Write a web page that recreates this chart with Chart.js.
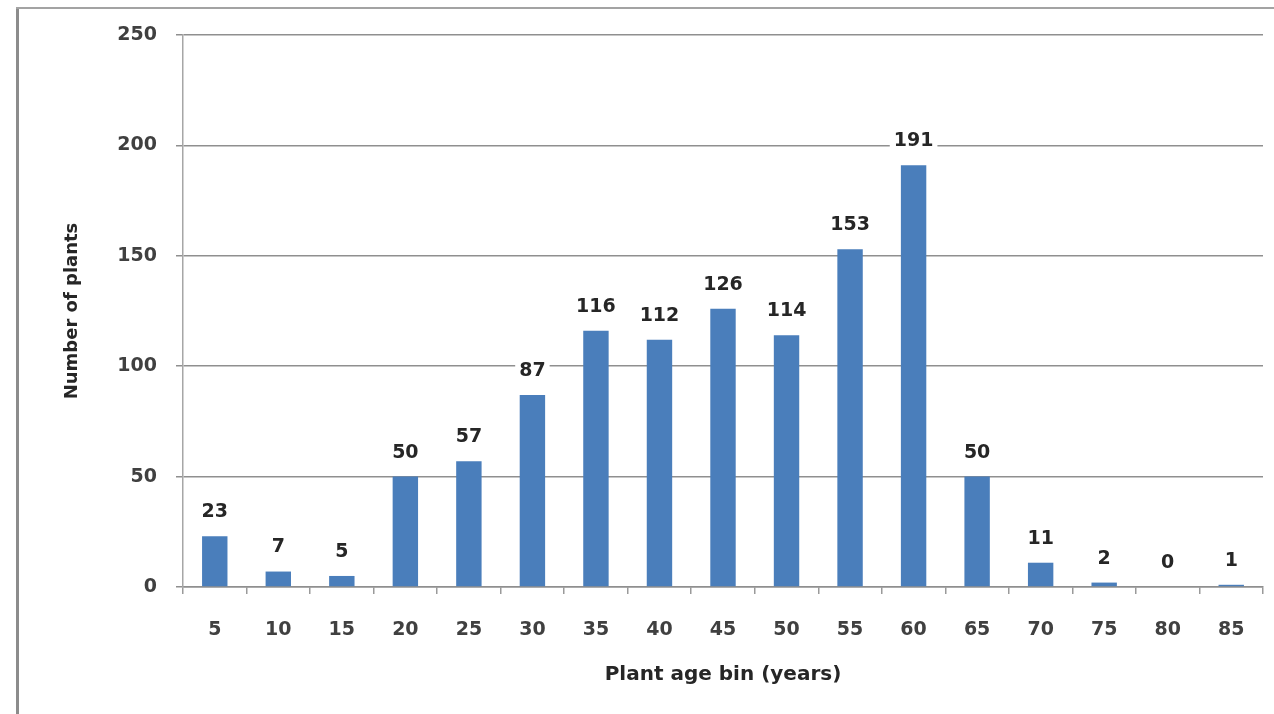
<!DOCTYPE html>
<html>
<head>
<meta charset="utf-8">
<script src="https://cdn.jsdelivr.net/npm/chart.js@4"></script>
<style>
  html, body { margin: 0; padding: 0; background: #ffffff; }
  canvas { display: block; }
</style>
</head>
<body>
<canvas id="c" width="1274" height="714"></canvas>
<script>
// Plant age bins (years) and the number of plants in each
const ageBins = ['5', '10', '15', '20', '25', '30', '35', '40', '45', '50', '55', '60', '65', '70', '75', '80', '85'];
const plantCounts = [23, 7, 5, 50, 57, 87, 116, 112, 126, 114, 153, 191, 50, 11, 2, 0, 1];
const yTicks = [0, 50, 100, 150, 200, 250];

const FONT = "'DejaVu Sans', 'Open Sans', sans-serif";

// Outer frame lines along the left and top edges
const framePlugin = {
  id: 'frame',
  beforeDraw(chart) {
    const ctx = chart.ctx;
    ctx.save();
    ctx.strokeStyle = '#8c8c8c';
    ctx.lineWidth = 3;
    ctx.beginPath();
    ctx.moveTo(17.5, 7);
    ctx.lineTo(17.5, 714);
    ctx.stroke();
    ctx.strokeStyle = '#a3a3a3';
    ctx.lineWidth = 2;
    ctx.beginPath();
    ctx.moveTo(16, 8);
    ctx.lineTo(1274, 8);
    ctx.stroke();
    ctx.restore();
  }
};

// Value labels above each bar, on a white backing
const valueLabels = {
  id: 'valueLabels',
  afterDatasetsDraw(chart) {
    const ctx = chart.ctx;
    const meta = chart.getDatasetMeta(0);
    const data = chart.data.datasets[0].data;
    ctx.save();
    ctx.font = 'bold 19px ' + FONT;
    ctx.textAlign = 'center';
    ctx.textBaseline = 'middle';
    meta.data.forEach((bar, i) => {
      const text = String(data[i]);
      const y = bar.y - 24;
      const w = ctx.measureText(text).width + 8;
      ctx.fillStyle = '#ffffff';
      ctx.fillRect(bar.x - w / 2, y - 11, w, 22);
      ctx.fillStyle = '#262626';
      ctx.fillText(text, bar.x, y);
    });
    ctx.restore();
  }
};

new Chart(document.getElementById('c'), {
  type: 'bar',
  data: {
    labels: ageBins,
    datasets: [{
      data: plantCounts,
      backgroundColor: '#4a7ebb',
      borderWidth: 0,
      barPercentage: 0.8,
      categoryPercentage: 0.5
    }]
  },
  options: {
    responsive: false,
    animation: false,
    events: [],
    layout: { padding: { left: 0, top: 35, right: 11, bottom: 0 } },
    plugins: {
      legend: { display: false },
      tooltip: { enabled: false }
    },
    scales: {
      x: {
        grid: {
          offset: true,
          drawOnChartArea: false,
          drawTicks: true,
          tickLength: 7,
          color: '#9a9a9a',
          lineWidth: 1.5
        },
        border: { color: '#8f8f8f', width: 1.5 },
        ticks: {
          color: '#404040',
          font: { family: FONT, size: 19, weight: 'bold' },
          padding: 25,
          maxRotation: 0
        },
        title: {
          display: true,
          text: 'Plant age bin (years)',
          color: '#262626',
          font: { family: FONT, size: 20, weight: 'bold' },
          padding: { top: 0, bottom: 27 }
        },
        afterFit(scale) { scale.height = 127; }
      },
      y: {
        min: 0,
        max: 250,
        afterBuildTicks(scale) { scale.ticks = yTicks.map(v => ({ value: v })); },
        grid: {
          color: '#8f8f8f',
          lineWidth: 1.5,
          drawTicks: true,
          tickLength: 7
        },
        border: { color: '#a6a6a6', width: 1.5 },
        ticks: {
          color: '#404040',
          font: { family: FONT, size: 19, weight: 'bold' },
          padding: 19
        },
        title: {
          display: true,
          text: 'Number of plants',
          color: '#262626',
          font: { family: FONT, size: 18, weight: 'bold' },
          padding: { top: 62, bottom: 0 }
        },
        afterFit(scale) { scale.width = 183; }
      }
    }
  },
  plugins: [framePlugin, valueLabels]
});
</script>
</body>
</html>
